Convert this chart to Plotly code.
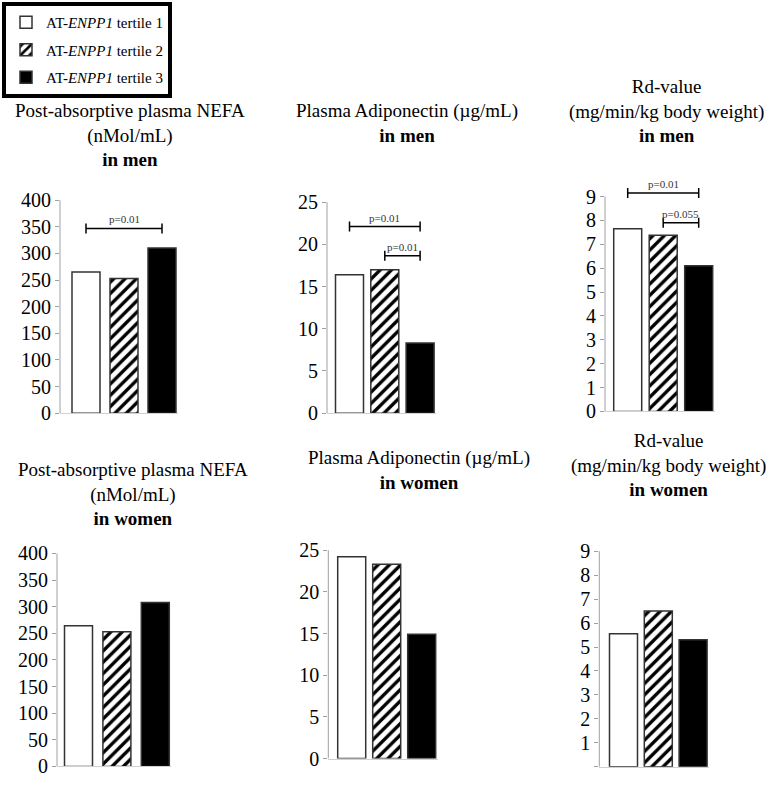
import plotly.graph_objects as go

W, H = 777, 786
FONT = "Liberation Serif, Times New Roman, serif"

# ---------------- data ----------------
tertiles = ["AT-<i>ENPP1</i> tertile 1", "AT-<i>ENPP1</i> tertile 2", "AT-<i>ENPP1</i> tertile 3"]

nefa_men = [265, 253, 310]
adipo_men = [16.4, 17.0, 8.3]
rd_men = [7.65, 7.38, 6.1]
nefa_women = [264, 253, 308]
adipo_women = [24.2, 23.3, 14.9]
rd_women = [5.55, 6.5, 5.3]

titles = [
    "Post-absorptive plasma NEFA<br>(nMol/mL)<br><b>in men</b>",
    "Plasma Adiponectin (\u00b5g/mL)<br><b>in men</b>",
    "Rd-value<br>(mg/min/kg body weight)<br><b>in men</b>",
    "Post-absorptive plasma NEFA<br>(nMol/mL)<br><b>in women</b>",
    "Plasma Adiponectin (\u00b5g/mL)<br><b>in women</b>",
    "Rd-value<br>(mg/min/kg body weight)<br><b>in women</b>",
]

nefa_ticks = [0, 50, 100, 150, 200, 250, 300, 350, 400]
adipo_ticks = [0, 5, 10, 15, 20, 25]
rd_ticks = [0, 1, 2, 3, 4, 5, 6, 7, 8, 9]
rd_ticks_women_text = ["", "1", "2", "3", "4", "5", "6", "7", "8", "9"]

# significance brackets: (panel, from tertile, to tertile, height, label)
brackets = [
    (0, 0, 2, 347, "p=0.01"),
    (1, 0, 2, 22.1, "p=0.01"),
    (1, 1, 2, 18.65, "p=0.01"),
    (2, 0, 2, 9.15, "p=0.01"),
    (2, 1, 2, 7.9, "p=0.055"),
]

# ---------------- layout geometry (pixels) ----------------
panels = [
    dict(vals=nefa_men, ticks=nefa_ticks, ttext=None, ax=60, c0=86, pitch=38, zero=419, top=203,
         tcx=130, tcy=137),
    dict(vals=adipo_men, ticks=adipo_ticks, ttext=None, ax=327, c0=349.5, pitch=35.3, zero=419, top=205,
         tcx=407, tcy=125),
    dict(vals=rd_men, ticks=rd_ticks, ttext=None, ax=605, c0=627.7, pitch=35.5, zero=417.3, top=199.3,
         tcx=666, tcy=113),
    dict(vals=nefa_women, ticks=nefa_ticks, ttext=None, ax=57, c0=78.5, pitch=38.4, zero=777.3, top=561.3,
         tcx=133, tcy=501),
    dict(vals=adipo_women, ticks=adipo_ticks, ttext=None, ax=328.3, c0=351.7, pitch=35, zero=769.3, top=558,
         tcx=419, tcy=477),
    dict(vals=rd_women, ticks=rd_ticks, ttext=rd_ticks_women_text, ax=599.3, c0=623.5, pitch=34.8, zero=777.7,
         top=559, tcx=668, tcy=472),
]

BAR_W = 28
EXT = 15  # extra pixels above the top tick for brackets

styles = [
    dict(color="white", pattern=dict(shape="")),
    dict(color="white", pattern=dict(shape="/", fgcolor="black", bgcolor="white", fgopacity=1,
                                     size=8, solidity=0.42)),
    dict(color="black", pattern=dict(shape="")),
]

fig = go.Figure()
shapes = []
annotations = []

for p, P in enumerate(panels):
    n = "" if p == 0 else str(p + 1)
    xa, ya = "x" + n, "y" + n
    pitch = P["pitch"]
    xl = (P["ax"] - P["c0"]) / pitch
    xr = 2 + (BAR_W / 2 + 2) / pitch
    right_px = P["c0"] + xr * pitch
    ymax = P["ticks"][-1]
    ppu = (P["zero"] - P["top"]) / ymax
    ytop = ymax + EXT / ppu
    dom_top_px = P["top"] - EXT

    for i in range(3):
        fig.add_trace(go.Bar(
            x=[i], y=[P["vals"][i]], width=BAR_W / pitch,
            name=tertiles[i], legendgroup="g%d" % i, showlegend=(p == 0),
            marker=dict(color=styles[i]["color"], pattern=styles[i]["pattern"],
                        line=dict(color="#333333", width=1.5)),
            xaxis=xa, yaxis=ya, hoverinfo="skip",
        ))

    fig.layout["xaxis" + n] = dict(
        domain=[P["ax"] / W, right_px / W], range=[xl, xr], anchor=ya,
        showticklabels=False, ticks="", showgrid=False, zeroline=False,
        showline=True, linecolor="#d0d0d0", linewidth=1, fixedrange=True,
    )
    fig.layout["yaxis" + n] = dict(
        domain=[1 - P["zero"] / H, 1 - dom_top_px / H], range=[0, ytop], anchor=xa,
        tickvals=P["ticks"], ticktext=P["ttext"] if P["ttext"] else [str(t) for t in P["ticks"]],
        ticks="outside", ticklen=4, tickcolor="#a0a0a0", tickwidth=1,
        tickfont=dict(family=FONT, size=20, color="black"),
        showgrid=False, zeroline=False, showline=False, fixedrange=True,
    )
    shapes.append(dict(type="line", xref=xa + " domain", yref=ya, x0=0, x1=0, y0=0, y1=ymax,
                       line=dict(color="#a0a0a0", width=1)))

    annotations.append(dict(
        text=titles[p], xref="paper", yref="paper", x=P["tcx"] / W, y=1 - P["tcy"] / H,
        xanchor="center", yanchor="middle", align="center", showarrow=False,
        font=dict(family=FONT, size=19, color="black"),
    ))

for (p, a, b, v, lab) in brackets:
    n = "" if p == 0 else str(p + 1)
    xa, ya = "x" + n, "y" + n
    shapes.append(dict(type="line", xref=xa, yref=ya, x0=a, x1=b, y0=v, y1=v,
                       line=dict(color="black", width=1.5)))
    for xe in (a, b):
        shapes.append(dict(type="line", xref=xa, yref=ya, x0=xe, x1=xe, ysizemode="pixel",
                           yanchor=v, y0=-5, y1=5, line=dict(color="black", width=1.5)))
    annotations.append(dict(
        text=lab, xref=xa, yref=ya, x=(a + b) / 2, y=v, yshift=9, showarrow=False,
        xanchor="center", yanchor="middle", font=dict(family=FONT, size=11, color="#333333"),
    ))

fig.update_layout(
    width=W, height=H, margin=dict(l=0, r=0, t=0, b=0),
    paper_bgcolor="white", plot_bgcolor="white",
    bargap=0, barmode="overlay",
    shapes=shapes, annotations=annotations,
    showlegend=True,
    legend=dict(
        x=2 / W, y=1 - 2 / H, xanchor="left", yanchor="top",
        bgcolor="white", bordercolor="black", borderwidth=4,
        font=dict(family=FONT, size=15, color="black"),
        traceorder="grouped", tracegroupgap=5,
    ),
)

fig.write_html("out.html", config={"displayModeBar": False, "staticPlot": True},
               post_script="document.body.style.margin='0px';document.body.style.overflow='hidden';")
